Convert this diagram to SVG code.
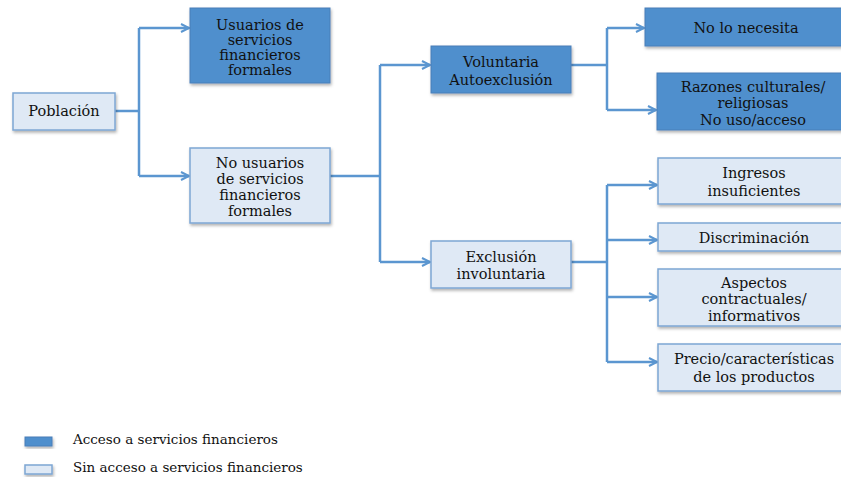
<svg xmlns="http://www.w3.org/2000/svg" width="841" height="477" viewBox="0 0 841 477">
<style>
  .dark { fill: #4f8fcd; stroke: #4a7fb8; stroke-width: 1; }
  .light { fill: #dfe9f5; stroke: #7ea6d3; stroke-width: 1.5; }
  .t { font-family: "DejaVu Serif", "Liberation Serif", serif; font-size: 14.5px; fill: #111; text-anchor: middle; }
  .lg { font-family: "DejaVu Serif", "Liberation Serif", serif; font-size: 13.5px; fill: #111; }
  .c { fill: none; stroke: #5b96d0; stroke-width: 2.5; }
</style>
<defs>
  <filter id="sh" x="-10%" y="-10%" width="130%" height="140%">
    <feDropShadow dx="1" dy="2" stdDeviation="1.5" flood-color="#000" flood-opacity="0.3"/>
  </filter>
  <marker id="ah" markerWidth="12" markerHeight="12" refX="9" refY="5" orient="auto" markerUnits="userSpaceOnUse">
    <path d="M1,1 L9,5 L1,9" fill="none" stroke="#5b96d0" stroke-width="2"/>
  </marker>
</defs>
<rect width="841" height="477" fill="#fff"/>

<g id="connectors">
  <path class="c" d="M115,111 H139"/>
  <path class="c" d="M139,28 V176"/>
  <path class="c" d="M139,28 H189" marker-end="url(#ah)"/>
  <path class="c" d="M139,176 H189" marker-end="url(#ah)"/>
  <path class="c" d="M330,176 H380"/>
  <path class="c" d="M380,65 V262"/>
  <path class="c" d="M380,65 H430" marker-end="url(#ah)"/>
  <path class="c" d="M380,262 H430" marker-end="url(#ah)"/>
  <path class="c" d="M571,65 H607"/>
  <path class="c" d="M607,28 V110"/>
  <path class="c" d="M607,28 H644" marker-end="url(#ah)"/>
  <path class="c" d="M607,110 H656" marker-end="url(#ah)"/>
  <path class="c" d="M571,262 H607"/>
  <path class="c" d="M607,185 V362"/>
  <path class="c" d="M607,185 H657" marker-end="url(#ah)"/>
  <path class="c" d="M607,240 H657" marker-end="url(#ah)"/>
  <path class="c" d="M607,297 H657" marker-end="url(#ah)"/>
  <path class="c" d="M607,362 H657" marker-end="url(#ah)"/>
</g>

<g id="poblacion">
  <rect class="light" x="13" y="93" width="102" height="37" filter="url(#sh)"/>
  <text class="t" x="64" y="116">Población</text>
</g>
<g id="usuarios">
  <rect class="dark" x="190" y="8" width="140" height="75" filter="url(#sh)"/>
  <text class="t" x="260" y="30">Usuarios de</text>
  <text class="t" x="260" y="45">servicios</text>
  <text class="t" x="260" y="60">financieros</text>
  <text class="t" x="260" y="75">formales</text>
</g>
<g id="no-usuarios">
  <rect class="light" x="190" y="148" width="140" height="75" filter="url(#sh)"/>
  <text class="t" x="260" y="168">No usuarios</text>
  <text class="t" x="260" y="184">de servicios</text>
  <text class="t" x="260" y="200">financieros</text>
  <text class="t" x="260" y="216">formales</text>
</g>
<g id="voluntaria">
  <rect class="dark" x="431" y="46" width="140" height="47" filter="url(#sh)"/>
  <text class="t" x="501" y="67">Voluntaria</text>
  <text class="t" x="501" y="85">Autoexclusión</text>
</g>
<g id="exclusion">
  <rect class="light" x="431" y="241" width="140" height="47" filter="url(#sh)"/>
  <text class="t" x="501" y="262">Exclusión</text>
  <text class="t" x="501" y="279">involuntaria</text>
</g>
<g id="no-lo-necesita">
  <rect class="dark" x="645" y="8" width="205" height="38" filter="url(#sh)"/>
  <text class="t" x="746" y="33">No lo necesita</text>
</g>
<g id="razones">
  <rect class="dark" x="657" y="73" width="193" height="57" filter="url(#sh)"/>
  <text class="t" x="753" y="92">Razones culturales/</text>
  <text class="t" x="753" y="108">religiosas</text>
  <text class="t" x="753" y="125">No uso/acceso</text>
</g>
<g id="ingresos">
  <rect class="light" x="658" y="158" width="192" height="46" filter="url(#sh)"/>
  <text class="t" x="754" y="178">Ingresos</text>
  <text class="t" x="754" y="196">insuficientes</text>
</g>
<g id="discriminacion">
  <rect class="light" x="658" y="223" width="192" height="28" filter="url(#sh)"/>
  <text class="t" x="754" y="243">Discriminación</text>
</g>
<g id="aspectos">
  <rect class="light" x="658" y="269" width="192" height="57" filter="url(#sh)"/>
  <text class="t" x="754" y="288">Aspectos</text>
  <text class="t" x="754" y="304">contractuales/</text>
  <text class="t" x="754" y="321">informativos</text>
</g>
<g id="precio">
  <rect class="light" x="658" y="344" width="192" height="47" filter="url(#sh)"/>
  <text class="t" x="754" y="364">Precio/características</text>
  <text class="t" x="754" y="382">de los productos</text>
</g>

<g id="legend">
  <rect class="dark" x="25" y="437" width="27" height="9" filter="url(#sh)"/>
  <text class="lg" x="73" y="444">Acceso a servicios financieros</text>
  <rect class="light" x="25" y="465" width="27" height="9" filter="url(#sh)"/>
  <text class="lg" x="73" y="472">Sin acceso a servicios financieros</text>
</g>
</svg>
